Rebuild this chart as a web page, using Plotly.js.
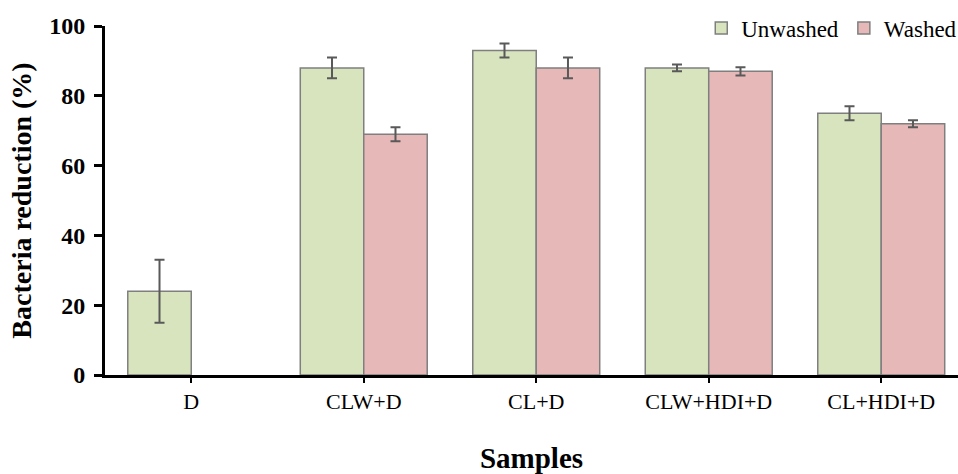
<!DOCTYPE html>
<html>
<head>
<meta charset="utf-8">
<script src="https://cdn.plot.ly/plotly-3.0.1.min.js"></script>
<style>html,body{margin:0;padding:0;background:#fff;}#chart{width:958px;height:474px;}</style>
</head>
<body>
<div id="chart"></div>
<script>
const categories = ["D", "CLW+D", "CL+D", "CLW+HDI+D", "CL+HDI+D"];
const unwashed = [24, 88, 93, 88, 75];
const unwashedErr = [9, 3, 2, 1, 2];
const washed = [null, 69, 88, 87, 72];
const washedErr = [null, 2, 3, 1.2, 1];
const yTicks = [0, 20, 40, 60, 80, 100];

const serif = "Liberation Serif, Times New Roman, serif";

const traces = [
  {
    type: "bar", name: "Unwashed", x: categories, y: unwashed,
    marker: {color: "#d7e4bd", line: {color: "#7f7f7f", width: 1.5}},
    error_y: {type: "data", array: unwashedErr, visible: true, color: "#595959", thickness: 2, width: 5}
  },
  {
    type: "bar", name: "Washed", x: categories, y: washed,
    marker: {color: "#e6b9b8", line: {color: "#7f7f7f", width: 1.5}},
    error_y: {type: "data", array: washedErr, visible: true, color: "#595959", thickness: 2, width: 5}
  }
];

const layout = {
  width: 958, height: 474,
  margin: {l: 105, r: 0, t: 26, b: 99, autoexpand: false},
  paper_bgcolor: "#fff", plot_bgcolor: "#fff",
  barmode: "group", bargap: 0.264, bargroupgap: 0,
  showlegend: true,
  legend: {
    orientation: "h", x: 1.005, xanchor: "right", y: 0.994, yanchor: "middle",
    font: {family: serif, size: 23, color: "#000"},
    itemwidth: 30, tracegroupgap: 0, bgcolor: "rgba(0,0,0,0)"
  },
  xaxis: {
    type: "category", range: [-0.5, 4.445],
    showline: true, linecolor: "#000", linewidth: 3,
    ticks: "outside", ticklen: 5, tickwidth: 2, tickcolor: "#000",
    tickfont: {family: serif, size: 22, color: "#000"},
    showgrid: false, zeroline: false,
    title: {text: "<b>Samples</b>", font: {family: serif, size: 29, color: "#000"}, standoff: 37}
  },
  yaxis: {
    range: [0, 100], tickvals: yTicks, ticktext: yTicks.map(v => "<b>" + v + "</b>"),
    showline: true, linecolor: "#000", linewidth: 3,
    ticks: "outside", ticklen: 8, tickwidth: 3, tickcolor: "#000",
    ticklabelstandoff: 4,
    tickfont: {family: serif, size: 24, color: "#000"},
    showgrid: false, zeroline: false,
    title: {text: "<b>Bacteria reduction (%)</b>", font: {family: serif, size: 28, color: "#000"}, standoff: 10}
  }
};

Plotly.newPlot("chart", traces, layout, {displayModeBar: false, staticPlot: true});
</script>
</body>
</html>
